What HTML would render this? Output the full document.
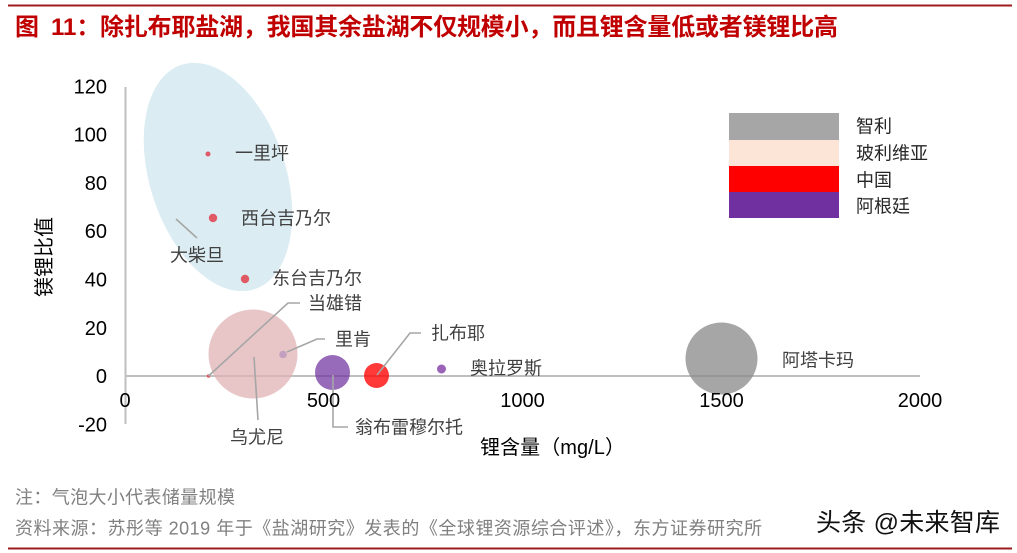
<!DOCTYPE html>
<html><head><meta charset="utf-8"><style>
html,body{margin:0;padding:0;background:#fff;}
svg{display:block;}
text{font-family:"Liberation Sans","Noto Sans CJK SC",sans-serif;}
</style></head><body>
<svg width="1017" height="553" viewBox="0 0 1017 553" xmlns="http://www.w3.org/2000/svg">
<rect width="1017" height="553" fill="#fff"/>
<!-- top rule -->
<line x1="8" y1="5.5" x2="1012" y2="5.5" stroke="#a01b1b" stroke-width="2"/>
<!-- title -->
<g fill="#c00000" font-weight="bold" font-size="24">
<text x="15" y="35">图</text>
<text x="51" y="35">11：</text>
<text x="100" y="35" textLength="738" lengthAdjust="spacing">除扎布耶盐湖，我国其余盐湖不仅规模小，而且锂含量低或者镁锂比高</text>
</g>

<!-- ellipse -->
<ellipse cx="218" cy="177" rx="68" ry="118" transform="rotate(-18 218 177)" fill="#dbedf3"/>

<!-- axes -->
<line x1="125.5" y1="87" x2="125.5" y2="424" stroke="#bfbfbf" stroke-width="2"/>
<line x1="125" y1="376" x2="920" y2="376" stroke="#bfbfbf" stroke-width="2"/>

<!-- bubbles -->
<circle cx="253" cy="354" r="44.5" fill="#e0b3b4" fill-opacity="0.75"/>
<circle cx="332.5" cy="372.5" r="17.5" fill="#7030a0" fill-opacity="0.72"/>
<circle cx="376.5" cy="375.5" r="12.5" fill="#ff0000" fill-opacity="0.78"/>
<circle cx="721.5" cy="358.5" r="36" fill="#888888" fill-opacity="0.75"/>
<circle cx="441.5" cy="369" r="4.5" fill="#9a63b8"/>
<circle cx="283" cy="354.5" r="3.8" fill="#c4a0c0"/>

<!-- small dots -->
<circle cx="208" cy="154" r="2.5" fill="#df5a64"/>
<circle cx="213" cy="218" r="4.2" fill="#df5a64"/>
<circle cx="245" cy="279" r="4.2" fill="#df5a64"/>
<circle cx="208.5" cy="376" r="1.8" fill="#df5a64"/>

<!-- leader lines -->
<g stroke="#a6a6a6" stroke-width="1.6" fill="none">
<polyline points="176,219 197,238"/>
<polyline points="208.5,376 288,303 300,303"/>
<polyline points="254,357 258,420"/>
<polyline points="287,352 317,339 325,339"/>
<polyline points="333,375 333,427 348,427"/>
<polyline points="377,375 410,333 421,333"/>
</g>

<!-- y tick labels -->
<g font-size="20" fill="#000" text-anchor="end">
<text x="107" y="93.5">120</text>
<text x="107" y="141.5">100</text>
<text x="107" y="190">80</text>
<text x="107" y="238">60</text>
<text x="107" y="286.5">40</text>
<text x="107" y="335">20</text>
<text x="107" y="383">0</text>
<text x="107" y="431.5">-20</text>
</g>
<!-- x tick labels -->
<g font-size="20" fill="#000" text-anchor="middle">
<text x="125" y="407">0</text>
<text x="323.5" y="407">500</text>
<text x="522.5" y="407">1000</text>
<text x="721.5" y="407">1500</text>
<text x="920" y="407">2000</text>
</g>

<!-- axis titles -->
<text transform="translate(44,257) rotate(-90)" x="0" y="7.2" font-size="20" text-anchor="middle" fill="#000">镁锂比值</text>
<text x="480" y="454" font-size="20" fill="#000" textLength="145" lengthAdjust="spacing">锂含量（mg/L）</text>

<!-- data labels -->
<g font-size="18" fill="#404040">
<text x="235" y="159.5">一里坪</text>
<text x="241" y="224.5">西台吉乃尔</text>
<text x="170" y="261.5">大柴旦</text>
<text x="272" y="284.5">东台吉乃尔</text>
<text x="308" y="309.5">当雄错</text>
<text x="335" y="345.5">里肯</text>
<text x="431" y="339.5">扎布耶</text>
<text x="470" y="374.5">奥拉罗斯</text>
<text x="782" y="366.5">阿塔卡玛</text>
<text x="230" y="443.5">乌尤尼</text>
<text x="355" y="433.5">翁布雷穆尔托</text>
</g>

<!-- legend -->
<rect x="729" y="113" width="110" height="27" fill="#a6a6a6"/>
<rect x="729" y="140" width="110" height="26" fill="#fce4d6"/>
<rect x="729" y="166" width="110" height="26" fill="#ff0000"/>
<rect x="729" y="192" width="110" height="26" fill="#7030a0"/>
<g font-size="18" fill="#262626">
<text x="856" y="132.5">智利</text>
<text x="856" y="159.5">玻利维亚</text>
<text x="856" y="186.5">中国</text>
<text x="856" y="212.5">阿根廷</text>
</g>

<!-- footer -->
<g font-size="18" fill="#808080">
<text x="15" y="503.5" textLength="220" lengthAdjust="spacing">注：气泡大小代表储量规模</text>
<text x="15" y="534.5" textLength="747" lengthAdjust="spacing">资料来源：苏彤等 2019 年于《盐湖研究》发表的《全球锂资源综合评述》，东方证券研究所</text>
</g>
<text x="816" y="531" font-size="25" fill="#111" textLength="184" lengthAdjust="spacing">头条 @未来智库</text>
<line x1="8" y1="548.5" x2="1012" y2="548.5" stroke="#9b1c1c" stroke-width="2"/>
</svg>
</body></html>
